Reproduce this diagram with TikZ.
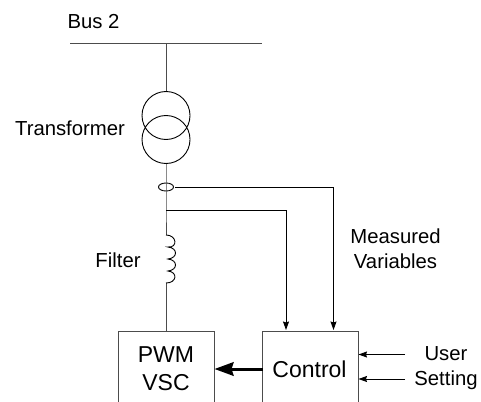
\documentclass[tikz,border=0pt]{standalone}
\usepackage{fontspec}
\setmainfont{Liberation Sans}
\usetikzlibrary{arrows.meta,shapes.geometric}
\definecolor{ln}{gray}{0.3}
\tikzset{
  x=1pt,y=-1pt,
  wire/.style={draw=ln,line width=1pt},
  sig/.style={draw=black,line width=0.9pt,-{Stealth[length=8.5pt,width=6pt,inset=1pt]}},
  box/.style={draw=ln,line width=1pt,minimum width=95.5pt,minimum height=100pt,inner sep=0pt,anchor=north west},
  lab/.style={font=\fontsize{20.3}{25}\selectfont,text=black,inner sep=0pt,align=center},
  biglab/.style={font=\fontsize{23}{28}\selectfont,text=black,inner sep=0pt,align=center},
  coil/.style={draw=black,line width=0.9pt,circle,minimum size=48pt,inner sep=0pt},
}
\begin{document}
\begin{tikzpicture}
\useasboundingbox (0,0) rectangle (481,401);
\fill[white] (0,0) rectangle (481,401);
% bus
\coordinate (busL) at (70,43.5);
\coordinate (busR) at (262,43.5);
\coordinate (busT) at (166,43.5);
\draw[wire] (busL) -- (busR);
\node[lab] (buslab) at (93.5,21.5) {Bus 2};
% transformer
\node[coil] (t1) at (166,115.5) {};
\node[coil] (t2) at (166,139.5) {};
\draw[wire] (busT) -- (t1.north);
\node[lab] (translab) at (70,128) {Transformer};
% boxes
\node[box] (pwm) at (118,330.5) {};
\node[box] (ctrl) at (262,330.5) {};
\node[biglab] (pwmlab) at (166,369) {PWM\\VSC};
\node[biglab] (ctrllab) at (309.5,369) {Control};
% junctions
\coordinate (ctL) at (166,187);
\coordinate (tap) at (166,210.5);
\coordinate (lTop) at (166,235);
\coordinate (lBot) at (166,283);
\node[draw=black,line width=0.9pt,ellipse,minimum width=15pt,minimum height=8pt,inner sep=0pt] (ct) at (ctL) {};
\draw[wire] (t2.south) -- (tap) -- (lTop);
\draw[wire] (lBot) -- (lBot |- pwm.north);
% inductor
\draw[draw=black,line width=0.9pt] (lTop)
  .. controls +(11,0) and +(10,1) .. ++(2,12)
  .. controls +(10,1) and +(10,-1) .. ++(0,12)
  .. controls +(10,1) and +(10,-1) .. ++(0,12)
  .. controls +(10,1) and +(11,0) .. (lBot);
\node[lab] (filt) at (118,260.5) {Filter};
% measured
\coordinate (c1) at (286,330);
\coordinate (c2) at (333.5,330);
\draw[sig] (tap) -| (c1);
\draw[sig] (ct.east) ++(1.5,0) -| (c2);
\node[lab] (meas) at (395.5,248.5) {Measured\\Variables};
% thick
\draw[draw=black,line width=3pt,-{Stealth[length=19pt,width=13.5pt,inset=2pt]}] (ctrl.west |- pwmlab) ++(1,0) -- (pwm.east |- pwmlab);
% user
\coordinate (u1) at (405,354.5);
\coordinate (u2) at (405,379);
\draw[sig] (u1) -- (ctrl.east |- u1);
\draw[sig] (u2) -- (ctrl.east |- u2);
\node[lab] (user) at (446,368) {User\\Setting};
\end{tikzpicture}
\end{document}
